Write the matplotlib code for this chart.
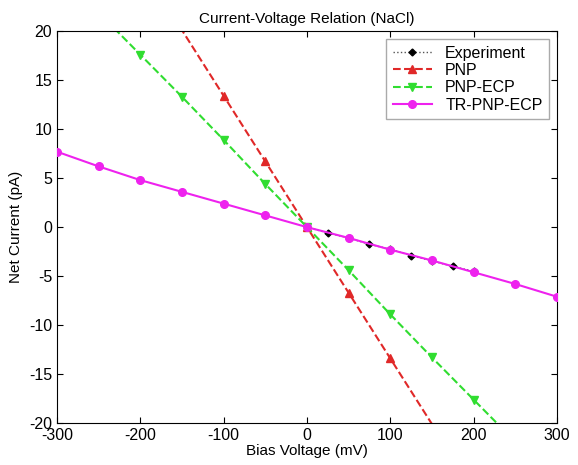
import numpy as np
import matplotlib
matplotlib.use("Agg")
import matplotlib.pyplot as plt

plt.rcParams['font.family'] = ['Liberation Sans', 'DejaVu Sans']
plt.rcParams['axes.unicode_minus'] = False

# Dati (mV, pA)
v_exp = [0, 25, 50, 75, 100, 125, 150, 175, 200]
i_exp = [0, -0.6, -1.1, -1.75, -2.25, -2.9, -3.45, -4.0, -4.5]

v_pnp = [-200, -150, -100, -50, 0, 50, 100, 150, 200]
i_pnp = [26.8, 20.1, 13.4, 6.7, 0, -6.7, -13.4, -20.1, -26.8]

v_ecp = [-250, -200, -150, -100, -50, 0, 50, 100, 150, 200, 250]
i_ecp = [21.9, 17.6, 13.3, 8.9, 4.4, 0, -4.4, -8.9, -13.3, -17.6, -21.9]

v_tr = [-300, -250, -200, -150, -100, -50, 0, 50, 100, 150, 200, 250, 300]
i_tr = [7.7, 6.2, 4.8, 3.6, 2.4, 1.2, 0, -1.1, -2.3, -3.4, -4.6, -5.8, -7.1]

fig = plt.figure(figsize=(5.78, 4.65), dpi=100)
ax = fig.add_axes([0.0986, 0.09, 0.865, 0.843])

ax.plot(v_exp, i_exp, color='#555555', linestyle=':', linewidth=1,
        marker='D', markersize=3.5, markerfacecolor='black', markeredgecolor='black',
        label='Experiment', zorder=2)
ax.plot(v_pnp, i_pnp, color='#e02828', linestyle='--', linewidth=1.5,
        marker='^', markersize=5.5, markevery=[2, 3, 4, 5, 6], label='PNP', zorder=2)
ax.plot(v_ecp, i_ecp, color='#30dd30', linestyle='--', linewidth=1.5,
        marker='v', markersize=5.5, label='PNP-ECP', zorder=2)
ax.plot(v_tr, i_tr, color='#ee22ee', linestyle='-', linewidth=1.5,
        marker='o', markersize=5.5, label='TR-PNP-ECP', zorder=3)

ax.set_xlim(-300, 300)
ax.set_ylim(-20, 20)
ax.set_xticks(np.arange(-300, 301, 100))
ax.set_yticks(np.arange(-20, 21, 5))
ax.tick_params(direction='in', top=True, right=True, labelsize=11.5, length=4)
ax.set_title('Current-Voltage Relation (NaCl)', fontsize=11)
ax.set_xlabel('Bias Voltage (mV)', fontsize=11, labelpad=1)
ax.set_ylabel('Net Current (pA)', fontsize=11)

leg = ax.legend(loc='upper right', fontsize=11.5, fancybox=False, framealpha=1,
                edgecolor='#aaaaaa', handlelength=2.5, borderaxespad=0.5,
                labelspacing=0.15, numpoints=1)

plt.savefig('out.png', dpi=100)
